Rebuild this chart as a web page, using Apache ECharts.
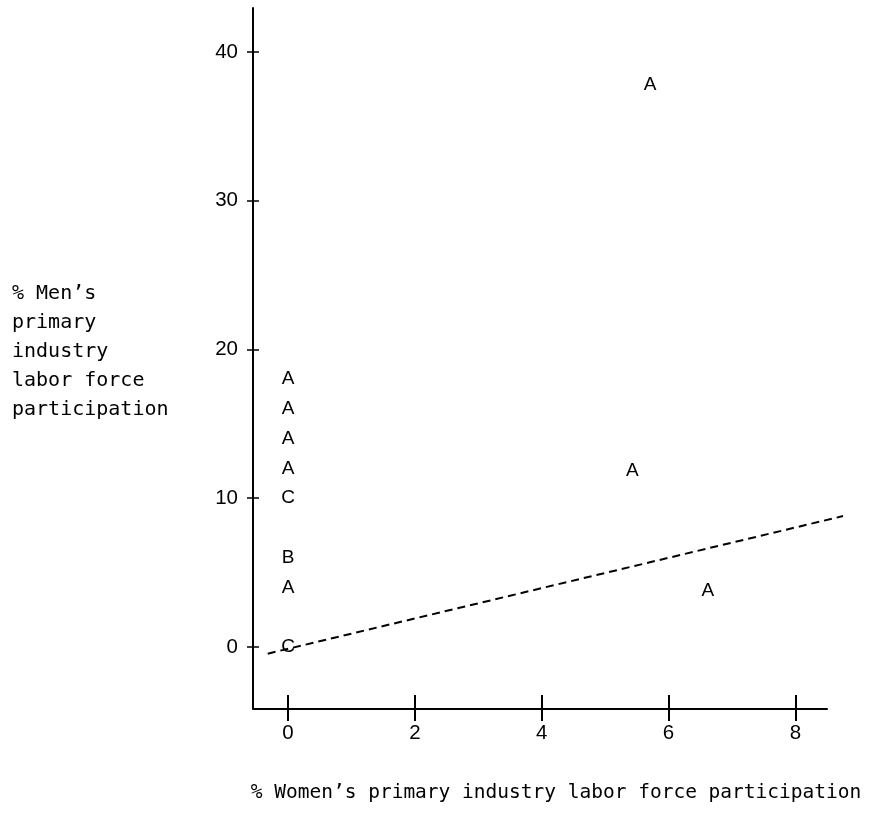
<!DOCTYPE html>
<html>
<head>
<meta charset="utf-8">
<script src="https://cdn.jsdelivr.net/npm/echarts@6/dist/echarts.min.js"></script>
<style>
  html, body { margin: 0; padding: 0; background: #fff; }
  #chart { width: 888px; height: 816px; }
</style>
</head>
<body>
<div id="chart"></div>
<script>
// Observations: % women / % men in primary industry, with group code letter
const womenPct = [0, 0, 0, 0, 0, 0, 0, 0, 5.71, 5.43, 6.62];
const menPct = [18, 16, 14, 12, 10, 6, 4, 0, 37.8, 11.85, 3.78];
const groupCodes = ['A', 'A', 'A', 'A', 'C', 'B', 'A', 'C', 'A', 'A', 'A'];

// Axis ticks
const xTicks = [0, 2, 4, 6, 8];
const yTicks = [0, 10, 20, 30, 40];

// Reference line endpoints
const fitX = [-0.32, 8.75];
const fitY = [-0.45, 8.8];

const xTitle = '% Women\u2019s primary industry labor force participation';
const yTitleLines = ['% Men\u2019s', 'primary', 'industry', 'labor force', 'participation'];

const ink = '#000';
const monoFont = '"DejaVu Sans Mono", "Liberation Mono", monospace';
const sansFont = '"Liberation Sans", Arial, sans-serif';

// The plotting area runs a little past the drawn x axis so the dashed line can overhang it
const xRange = { min: -0.552, max: 8.75 };
const xAxisEnd = 8.51;
const yRange = { min: -4.17, max: 42.96 };

const points = womenPct.map((x, i) => [x, menPct[i], groupCodes[i]]);

const chart = echarts.init(document.getElementById('chart'), null, { renderer: 'canvas' });

chart.setOption({
  animation: false,
  backgroundColor: '#fff',
  grid: { left: 253, right: 45, top: 8, bottom: 107, containLabel: false },
  xAxis: [
    {
      type: 'value', position: 'bottom', ...xRange,
      axisLine: { show: false, onZero: false },
      axisTick: { show: true, inside: false, length: 12, customValues: xTicks, lineStyle: { color: ink, width: 2 } },
      axisLabel: { show: true, customValues: xTicks, margin: 14, color: ink, fontSize: 20.5, fontFamily: sansFont },
      splitLine: { show: false }
    },
    {
      type: 'value', position: 'bottom', ...xRange,
      axisLine: { show: false, onZero: false },
      axisTick: { show: true, inside: true, length: 14, customValues: xTicks, lineStyle: { color: ink, width: 2 } },
      axisLabel: { show: false },
      splitLine: { show: false }
    }
  ],
  yAxis: [
    {
      type: 'value', position: 'left', ...yRange,
      axisLine: { show: true, onZero: false, lineStyle: { color: ink, width: 2 } },
      axisTick: { show: true, inside: false, length: 6, customValues: yTicks, lineStyle: { color: ink, width: 1.5 } },
      axisLabel: { show: true, customValues: yTicks, margin: 15, color: ink, fontSize: 20.5, fontFamily: sansFont },
      splitLine: { show: false }
    },
    {
      type: 'value', position: 'left', ...yRange,
      axisLine: { show: false, onZero: false },
      axisTick: { show: true, inside: true, length: 6, customValues: yTicks, lineStyle: { color: ink, width: 1.5 } },
      axisLabel: { show: false },
      splitLine: { show: false }
    }
  ],
  series: [
    {
      type: 'line',
      xAxisIndex: 0, yAxisIndex: 0,
      data: [[fitX[0], fitY[0]], [fitX[1], fitY[1]]],
      showSymbol: false, symbol: 'none', clip: false, silent: true,
      lineStyle: { color: ink, width: 2, type: [8, 5] },
      z: 2
    },
    {
      type: 'scatter',
      xAxisIndex: 0, yAxisIndex: 0,
      data: points,
      symbol: 'circle',
      symbolSize: 1,
      silent: true,
      itemStyle: { color: '#fff', opacity: 1 },
      label: {
        show: true, position: 'inside', opacity: 1,
        formatter: p => p.data[2],
        color: ink, fontSize: 19, fontFamily: sansFont,
        textBorderWidth: 0
      },
      z: 3
    }
  ]
});

// Horizontal axis line, titles
const axisStart = chart.convertToPixel({ xAxisIndex: 0, yAxisIndex: 0 }, [xRange.min, yRange.min]);
const axisStop = chart.convertToPixel({ xAxisIndex: 0, yAxisIndex: 0 }, [xAxisEnd, yRange.min]);

chart.setOption({
  graphic: [
    {
      type: 'line',
      shape: { x1: axisStart[0], y1: axisStart[1], x2: axisStop[0], y2: axisStop[1] },
      style: { stroke: ink, lineWidth: 2 },
      z: 5
    },
    {
      type: 'text', left: 12, top: 279,
      style: {
        text: yTitleLines.join('\n'),
        font: '20px ' + monoFont,
        lineHeight: 29,
        fill: ink
      }
    },
    {
      type: 'text',
      style: {
        x: 556, y: 793,
        text: xTitle,
        font: '19.5px ' + monoFont,
        textAlign: 'center',
        textVerticalAlign: 'middle',
        fill: ink
      }
    }
  ]
});
</script>
</body>
</html>
